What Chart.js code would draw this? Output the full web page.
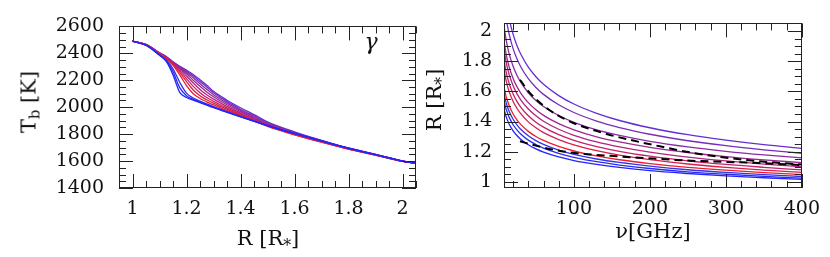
<!DOCTYPE html>
<html>
<head>
<meta charset="utf-8">
<script src="https://cdn.jsdelivr.net/npm/chart.js@4.4.1/dist/chart.umd.min.js"></script>
<style>
  body { margin: 0; background: #fff; }
  #wrap { position: relative; width: 830px; height: 257px; overflow: hidden; }
  canvas { position: absolute; top: 0; }
  .lbl { position: absolute; font-family: "DejaVu Serif", serif; font-size: 21px; line-height: 1; color: #111; white-space: nowrap; transform: translate(-50%, -50%); }
  .rot { transform: translate(-50%, -50%) rotate(-90deg); }
  .st { font-size: 0.75em; position: relative; top: 0.35em; }
  .sb { font-size: 0.7em; position: relative; top: 0.3em; }
</style>
</head>
<body>
<div id="wrap">
  <canvas id="tbChart" width="420" height="257" style="left:0"></canvas>
  <canvas id="rChart" width="410" height="257" style="left:420px"></canvas>
  <div class="lbl rot" style="left:29px; top:102px">T<span class="sb">b</span> [K]</div>
  <div class="lbl" style="left:268px; top:238px">R [R<span class="st">*</span>]</div>
  <div class="lbl" style="left:371px; top:42px; font-style:italic; font-size:22px">γ</div>
  <div class="lbl rot" style="left:434px; top:100px">R [R<span class="st">*</span>]</div>
  <div class="lbl" style="left:653px; top:231px">ν[GHz]</div>
</div>
<script>
// colours per phase, blue -> red -> violet
const phaseColors = ['#2323ff', '#2a2af2', '#3434e6', '#ee1c2c', '#d61f4e', '#c32266',
                     '#b0257d', '#9c2892', '#8a2aa6', '#782cba', '#642fd2'];

// left panel: brightness temperature vs radius
const radius = [1.0, 1.05, 1.1, 1.125, 1.15, 1.175, 1.2, 1.225, 1.25, 1.275, 1.3,
                1.35, 1.4, 1.45, 1.5, 1.6, 1.7, 1.8, 1.9, 2.0, 2.05];
const tbPhases = [
  [2490, 2460, 2385, 2340, 2240, 2110, 2072, 2052, 2033, 2015, 1996, 1962, 1928, 1895, 1864, 1805, 1750, 1696, 1648, 1600, 1584],
  [2490, 2460, 2387, 2345, 2265, 2145, 2085, 2058, 2038, 2019, 2000, 1965, 1930, 1897, 1864, 1804, 1749, 1695, 1648, 1600, 1584],
  [2490, 2461, 2389, 2350, 2285, 2185, 2105, 2068, 2045, 2024, 2004, 1968, 1932, 1898, 1863, 1803, 1748, 1694, 1647, 1600, 1584],
  [2490, 2463, 2395, 2360, 2310, 2240, 2160, 2100, 2065, 2040, 2017, 1976, 1937, 1898, 1858, 1795, 1740, 1688, 1644, 1598, 1583],
  [2490, 2463, 2397, 2363, 2318, 2258, 2190, 2128, 2085, 2055, 2030, 1985, 1943, 1902, 1861, 1797, 1742, 1689, 1645, 1598, 1583],
  [2490, 2464, 2398, 2366, 2324, 2272, 2212, 2155, 2108, 2072, 2044, 1995, 1950, 1907, 1865, 1800, 1744, 1691, 1646, 1599, 1584],
  [2490, 2464, 2400, 2369, 2328, 2283, 2232, 2180, 2132, 2092, 2060, 2006, 1958, 1913, 1870, 1803, 1746, 1692, 1646, 1599, 1584],
  [2490, 2465, 2401, 2371, 2331, 2290, 2248, 2200, 2155, 2113, 2077, 2018, 1967, 1920, 1875, 1806, 1748, 1694, 1647, 1600, 1584],
  [2490, 2465, 2402, 2373, 2333, 2296, 2260, 2218, 2175, 2133, 2093, 2030, 1976, 1927, 1880, 1810, 1750, 1695, 1648, 1600, 1585],
  [2490, 2466, 2403, 2375, 2335, 2300, 2268, 2232, 2190, 2150, 2108, 2041, 1985, 1935, 1886, 1813, 1752, 1696, 1649, 1601, 1585],
  [2490, 2466, 2404, 2377, 2337, 2304, 2275, 2243, 2203, 2163, 2118, 2052, 1996, 1945, 1892, 1817, 1754, 1697, 1650, 1602, 1586]
];

// right panel: radius of unit optical depth vs frequency
const freq = [8, 10, 12, 15, 20, 25, 30, 40, 50, 60, 80, 100, 130, 160, 200, 250, 300, 350, 400];
const rPhases = [
  [1.483, 1.445, 1.416, 1.381, 1.339, 1.308, 1.283, 1.246, 1.219, 1.198, 1.166, 1.142, 1.116, 1.096, 1.075, 1.056, 1.040, 1.028, 1.017],
  [1.537, 1.496, 1.464, 1.426, 1.379, 1.345, 1.318, 1.277, 1.248, 1.224, 1.189, 1.163, 1.134, 1.112, 1.089, 1.067, 1.051, 1.037, 1.025],
  [1.584, 1.540, 1.505, 1.465, 1.415, 1.378, 1.349, 1.306, 1.274, 1.249, 1.211, 1.183, 1.152, 1.129, 1.105, 1.081, 1.063, 1.049, 1.036],
  [1.629, 1.582, 1.546, 1.503, 1.450, 1.411, 1.381, 1.335, 1.301, 1.275, 1.235, 1.205, 1.172, 1.147, 1.122, 1.097, 1.078, 1.062, 1.049],
  [1.743, 1.689, 1.646, 1.595, 1.533, 1.488, 1.452, 1.398, 1.359, 1.327, 1.281, 1.246, 1.208, 1.178, 1.148, 1.119, 1.097, 1.079, 1.063],
  [1.807, 1.748, 1.703, 1.649, 1.583, 1.534, 1.496, 1.438, 1.396, 1.363, 1.313, 1.276, 1.234, 1.203, 1.171, 1.140, 1.116, 1.097, 1.080],
  [1.877, 1.815, 1.766, 1.708, 1.637, 1.585, 1.544, 1.483, 1.438, 1.402, 1.349, 1.309, 1.265, 1.232, 1.197, 1.164, 1.139, 1.118, 1.100],
  [1.934, 1.869, 1.818, 1.758, 1.685, 1.631, 1.589, 1.525, 1.478, 1.441, 1.386, 1.345, 1.299, 1.265, 1.229, 1.195, 1.168, 1.146, 1.128],
  [2.036, 1.966, 1.910, 1.845, 1.766, 1.707, 1.661, 1.591, 1.540, 1.500, 1.440, 1.395, 1.345, 1.308, 1.269, 1.232, 1.203, 1.179, 1.159],
  [2.193, 2.112, 2.049, 1.974, 1.883, 1.816, 1.763, 1.684, 1.626, 1.580, 1.511, 1.460, 1.403, 1.360, 1.316, 1.273, 1.240, 1.213, 1.190],
  [2.314, 2.226, 2.157, 2.076, 1.977, 1.904, 1.847, 1.760, 1.697, 1.647, 1.572, 1.516, 1.454, 1.407, 1.359, 1.313, 1.277, 1.247, 1.222]
];

// dashed reference curves
const dashUpperFreq = [29, 42, 64, 95, 143, 178, 213, 248, 318, 400];
const dashUpperR = [1.677, 1.590, 1.490, 1.400, 1.318, 1.274, 1.236, 1.200, 1.150, 1.115];
const dashLowerFreq = [29, 51, 82, 117, 160, 204, 248, 336, 400];
const dashLowerR = [1.269, 1.239, 1.205, 1.184, 1.169, 1.155, 1.142, 1.127, 1.112];

// labelled tick values
const tbRadiusTicks = [1, 1.2, 1.4, 1.6, 1.8, 2];
const tbTempTicks = [1400, 1600, 1800, 2000, 2200, 2400, 2600];
const freqTicks = [100, 200, 300, 400];
const rTicks = [1, 1.2, 1.4, 1.6, 1.8, 2];

const FONT = { family: 'DejaVu Serif', size: 19 };

function pts(xs, ys) {
  return xs.map((x, i) => ({ x: x, y: ys[i] }));
}

// box with inward major/minor ticks on all four sides
const frameTicks = {
  id: 'frameTicks',
  afterDatasetsDraw(chart, args, o) {
    const { ctx, chartArea: a, scales: { x, y } } = chart;
    const isMajor = (v, step) => Math.abs(v / step - Math.round(v / step)) < 1e-6;
    ctx.save();
    ctx.strokeStyle = '#222';
    ctx.lineWidth = 1;
    ctx.beginPath();
    for (let i = 0; ; i++) {
      const v = o.xStart + i * o.xMinor;
      if (v > x.max + 1e-9) break;
      if (v < x.min) continue;
      const px = Math.round(x.getPixelForValue(v)) + 0.5;
      const len = isMajor(v, o.xMajor) ? 14 : 7;
      ctx.moveTo(px, a.bottom); ctx.lineTo(px, a.bottom - len);
      ctx.moveTo(px, a.top); ctx.lineTo(px, a.top + len);
    }
    for (let i = 0; ; i++) {
      const v = o.yStart + i * o.yMinor;
      if (v > y.max + 1e-9) break;
      if (v < y.min) continue;
      const py = Math.round(y.getPixelForValue(v)) + 0.5;
      const len = isMajor(v, o.yMajor) ? 14 : 7;
      ctx.moveTo(a.left, py); ctx.lineTo(a.left + len, py);
      ctx.moveTo(a.right, py); ctx.lineTo(a.right - len, py);
    }
    ctx.stroke();
    ctx.strokeRect(Math.round(a.left) + 0.5, Math.round(a.top) + 0.5,
                   Math.round(a.width) - 1, Math.round(a.height) - 1);
    ctx.restore();
  }
};

function axis(min, max, tickValues, pad, fit) {
  return {
    type: 'linear', min: min, max: max,
    grid: { display: false, drawTicks: false, tickLength: 0 },
    border: { display: false },
    ticks: {
      autoSkip: false, maxRotation: 0,
      padding: pad, font: FONT, color: '#111',
      callback: (v) => String(Math.round(v * 100) / 100)
    },
    afterBuildTicks: (s) => { s.ticks = tickValues.map((v) => ({ value: v })); },
    afterFit: fit
  };
}

const tbSets = tbPhases.map((t, i) => ({
  data: pts(radius, t), borderColor: phaseColors[i], borderWidth: 1.3,
  pointRadius: 0, cubicInterpolationMode: 'monotone'
}));

new Chart(document.getElementById('tbChart'), {
  type: 'line',
  data: { datasets: tbSets },
  options: {
    responsive: false, animation: false, events: [],
    layout: { padding: { left: 0, right: 4, top: 16, bottom: 0 } },
    plugins: {
      legend: { display: false }, tooltip: { enabled: false },
      frameTicks: { xStart: 0.95, xMinor: 0.05, xMajor: 0.2, yStart: 1400, yMinor: 50, yMajor: 200 }
    },
    scales: {
      x: axis(0.95, 2.05, tbRadiusTicks, 10, (s) => { s.height = 69; }),
      y: axis(1400, 2600, tbTempTicks, 15, (s) => { s.width = 119; })
    }
  },
  plugins: [frameTicks]
});

const rSets = [
  { data: pts(dashUpperFreq, dashUpperR), borderColor: '#000', borderWidth: 2, borderDash: [8, 5],
    pointRadius: 0, cubicInterpolationMode: 'monotone' },
  { data: pts(dashLowerFreq, dashLowerR), borderColor: '#000', borderWidth: 2, borderDash: [8, 5],
    pointRadius: 0, cubicInterpolationMode: 'monotone' }
].concat(rPhases.map((r, i) => ({
  data: pts(freq, r), borderColor: phaseColors[i], borderWidth: 1.3,
  pointRadius: 0, cubicInterpolationMode: 'monotone'
})));

new Chart(document.getElementById('rChart'), {
  type: 'line',
  data: { datasets: rSets },
  options: {
    responsive: false, animation: false, events: [],
    layout: { padding: { left: 0, right: 28, top: 16, bottom: 0 } },
    plugins: {
      legend: { display: false }, tooltip: { enabled: false },
      frameTicks: { xStart: 0, xMinor: 20, xMajor: 100, yStart: 0.8, yMinor: 0.05, yMajor: 0.2 }
    },
    scales: {
      x: axis(8, 400, freqTicks, 10, (s) => { s.height = 69; }),
      y: axis(0.96, 2.05, rTicks, 12, (s) => { s.width = 84; })
    }
  },
  plugins: [frameTicks]
});
</script>
</body>
</html>
